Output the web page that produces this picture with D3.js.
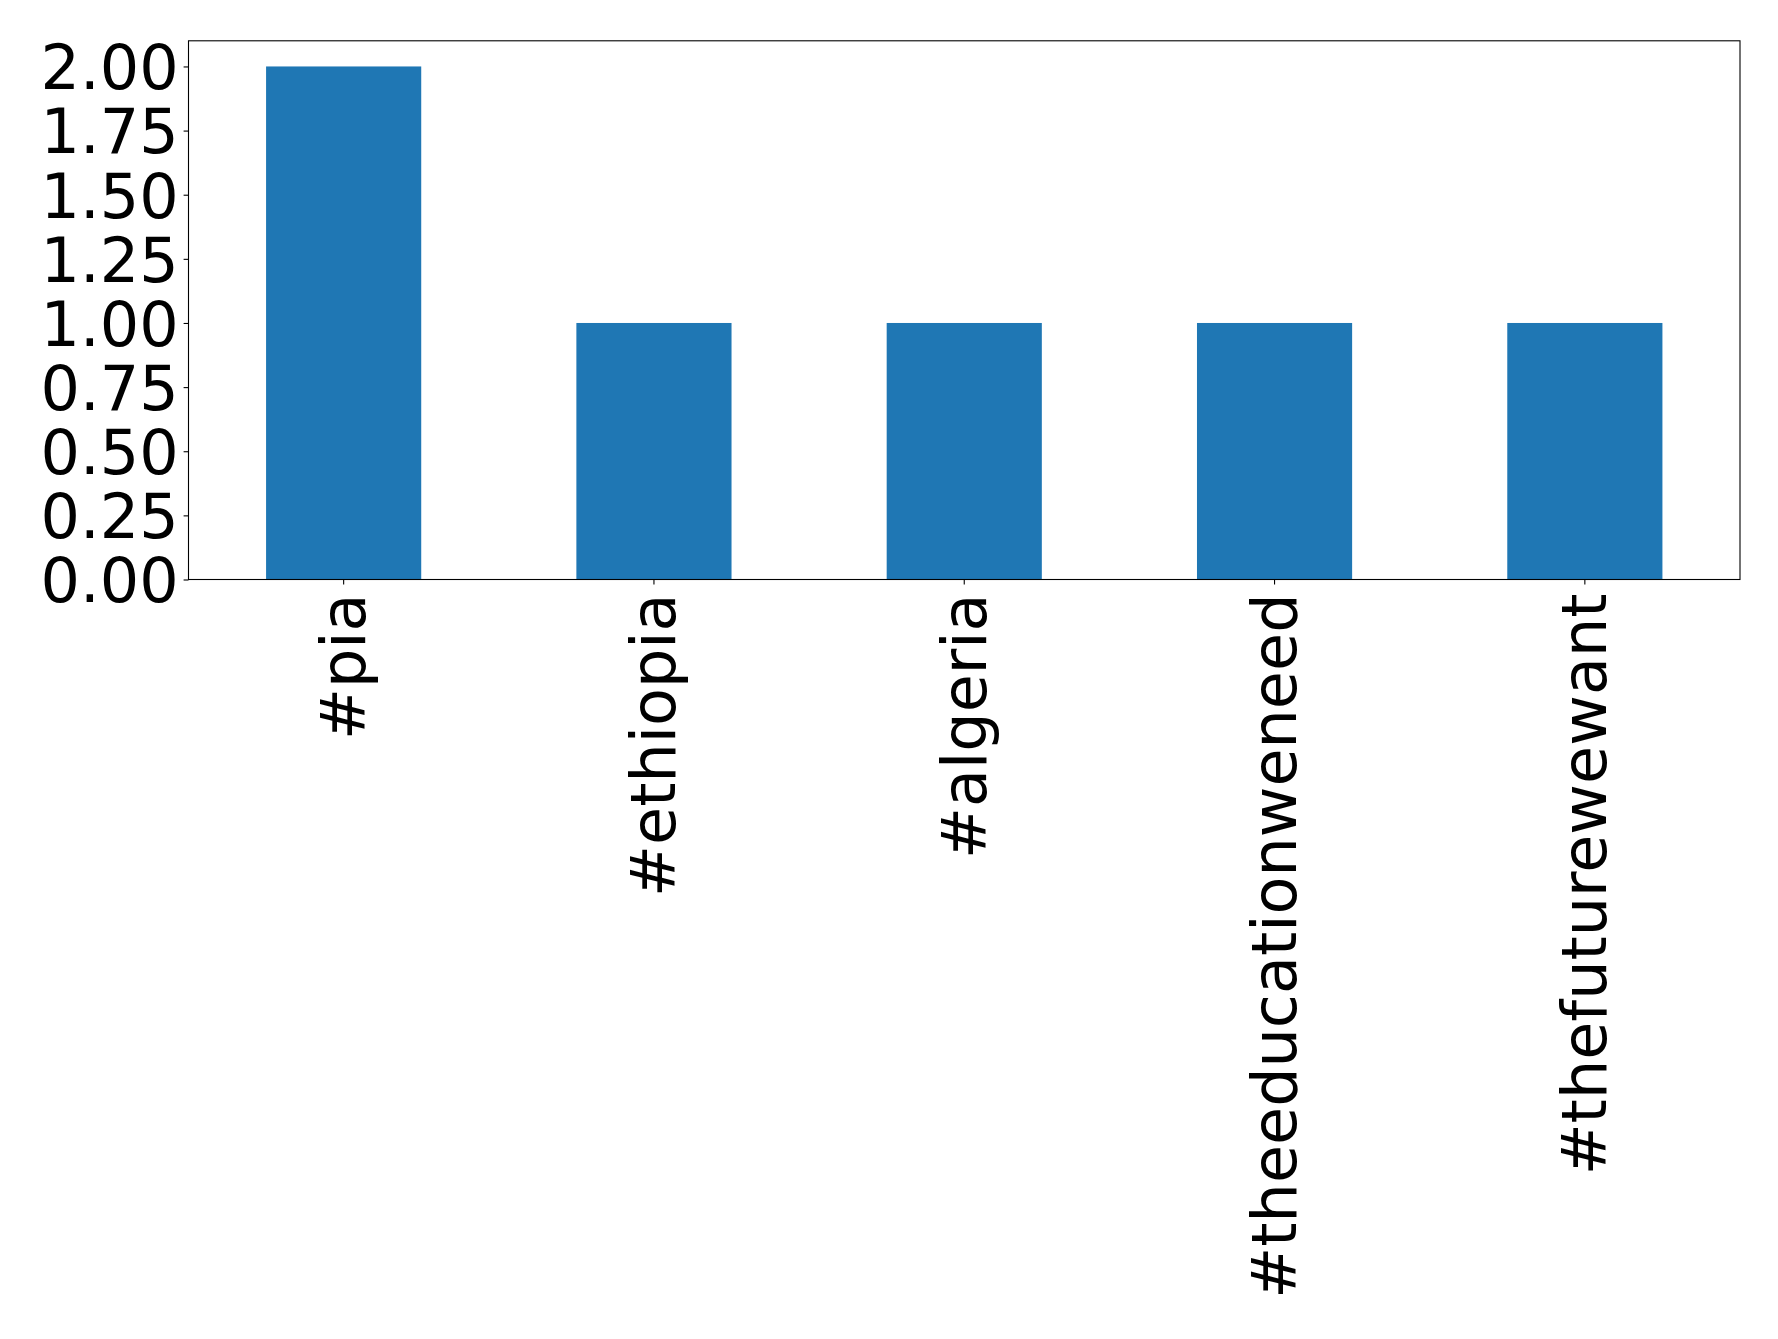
<!DOCTYPE html>
<html><head><meta charset="utf-8">
<script src="https://cdn.jsdelivr.net/npm/d3@7"></script>
<style>body{margin:0;background:#fff}</style></head>
<body><svg id="c" width="1778" height="1339"></svg>
<script>
const categories = ["#pia","#ethiopia","#algeria","#theeducationweneed","#thefuturewewant"];
const values = [2,1,1,1,1];
const yTicks = [0,0.25,0.5,0.75,1,1.25,1.5,1.75,2];

const L=188.5,R=1740,T=40.8,B=579.5;
const svg=d3.select("#c");
const x=d3.scaleBand().domain(categories).range([L,R]).paddingInner(0.5).paddingOuter(0.25);
const y=d3.scaleLinear().domain([0,2.1]).range([B,T]);

svg.selectAll("rect.bar").data(values).join("rect").attr("class","bar")
  .attr("x",(d,i)=>x(categories[i])).attr("width",x.bandwidth())
  .attr("y",d=>y(d)).attr("height",d=>B-y(d)).attr("fill","#1f77b4");

const font="DejaVu Sans, sans-serif";
const ya=svg.append("g").attr("transform",`translate(${L},0)`)
  .call(d3.axisLeft(y).tickValues(yTicks).tickFormat(d3.format(".2f")).tickSize(4.9).tickPadding(5));
ya.select(".domain").remove();
ya.selectAll("text").attr("font-family",font).attr("font-size",62).attr("fill","#000").attr("dy","0.36em");
ya.selectAll("line").attr("stroke","#000").attr("stroke-width",1.1);

const xa=svg.append("g").attr("transform",`translate(0,${B})`)
  .call(d3.axisBottom(x).tickSize(4.9).tickPadding(0));
xa.select(".domain").remove();
xa.selectAll("line").attr("stroke","#000").attr("stroke-width",1.1);
xa.selectAll("text").attr("font-family",font).attr("font-size",62).attr("fill","#000")
  .attr("text-anchor","end").attr("dy",null).attr("y",0)
  .attr("transform","translate(0,14) rotate(-90)").attr("dominant-baseline","central");

svg.append("rect").attr("x",L).attr("y",T).attr("width",R-L).attr("height",B-T)
  .attr("fill","none").attr("stroke","#000").attr("stroke-width",1.1);
</script></body></html>
